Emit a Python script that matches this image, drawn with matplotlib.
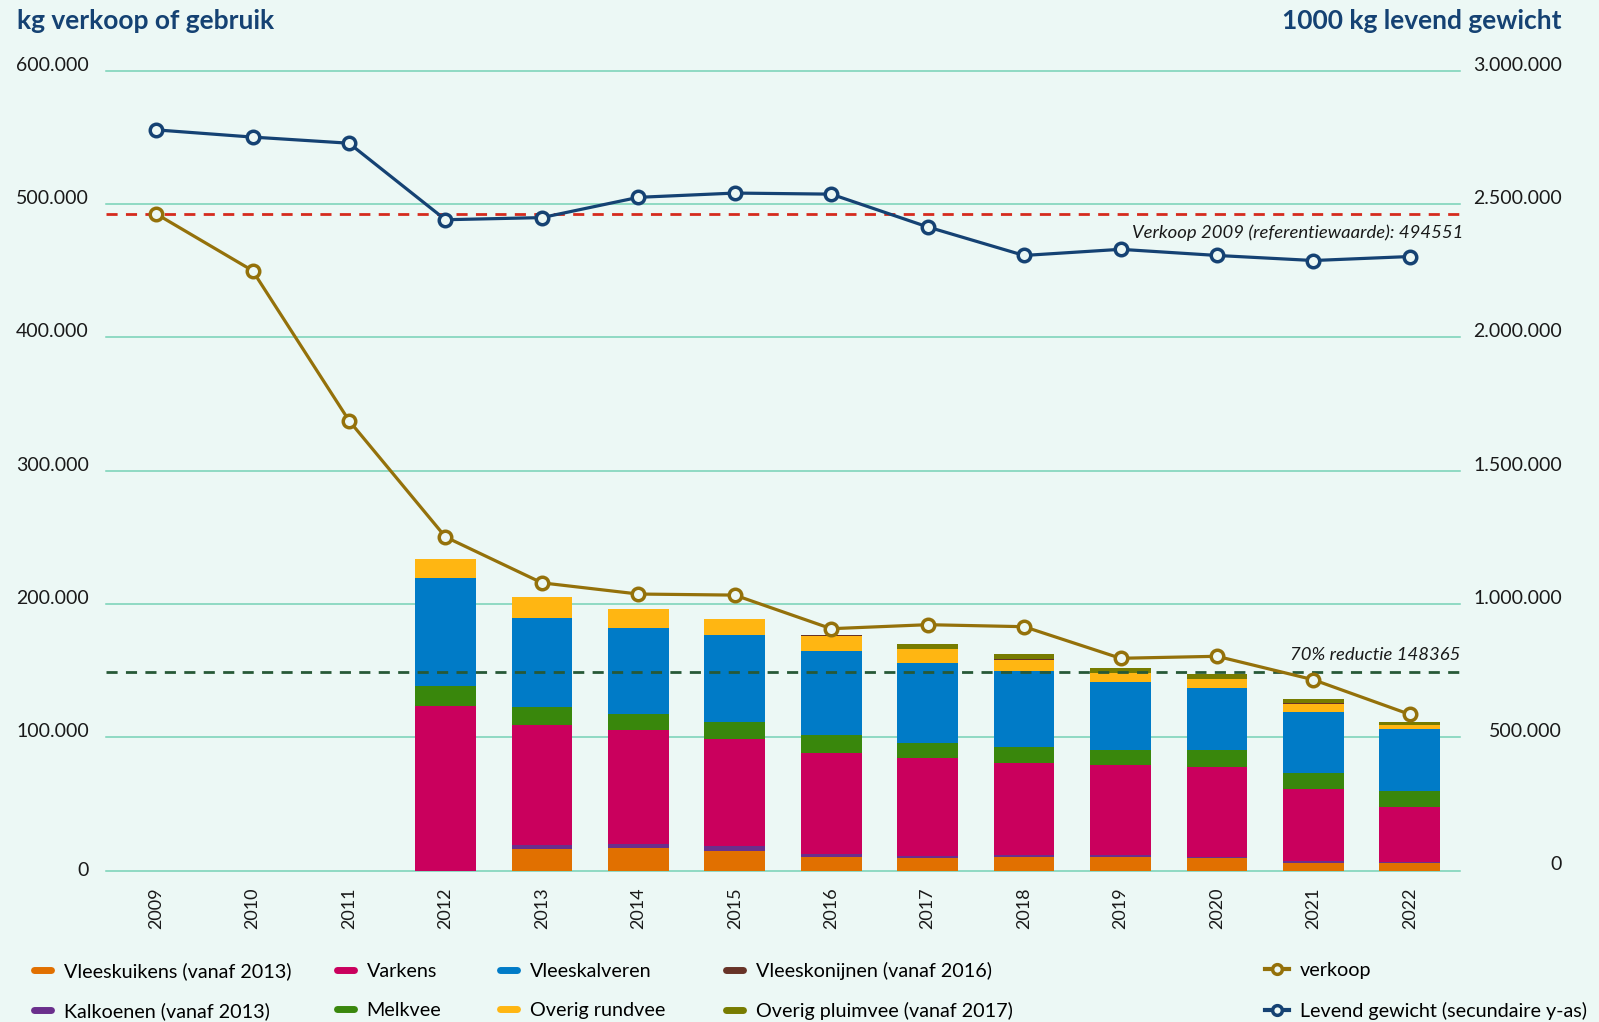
import numpy as np
import matplotlib
matplotlib.use("Agg")
import matplotlib.pyplot as plt
import matplotlib.transforms as mtransforms
from matplotlib.lines import Line2D

plt.rcParams['font.family'] = ['Lato', 'DejaVu Sans']

# ---- data ----
years = [2009, 2010, 2011, 2012, 2013, 2014, 2015, 2016, 2017, 2018, 2019, 2020, 2021, 2022]

vleeskuikens    = [0, 0, 0, 0, 16000, 16700, 14500, 10100, 9400, 10400, 10400, 9600, 5600, 5600]
kalkoenen       = [0, 0, 0, 0, 3000, 3300, 4000, 2500, 1700, 1500, 1500, 800, 1300, 800]
varkens         = [0, 0, 0, 123500, 90000, 85300, 80000, 75600, 73500, 68800, 67300, 67300, 54300, 41200]
melkvee         = [0, 0, 0, 15000, 13500, 12200, 12800, 13500, 11100, 12000, 11200, 12700, 12000, 12100]
vleeskalveren   = [0, 0, 0, 80800, 66800, 64300, 65300, 63000, 60000, 57000, 51000, 46500, 45700, 46500]
overig_rundvee  = [0, 0, 0, 14300, 15800, 14300, 12000, 11500, 10500, 8300, 6800, 6800, 6000, 3000]
vleeskonijnen   = [0, 0, 0, 0, 0, 0, 0, 700, 200, 700, 200, 200, 400, 200]
overig_pluimvee = [0, 0, 0, 0, 0, 0, 0, 0, 3800, 3800, 3700, 3800, 3000, 2200]

verkoop = [492600, 450000, 337500, 250200, 215800, 207400, 206600,
           181400, 184400, 182900, 159200, 160700, 143100, 117100]
levend_gewicht = [2778000, 2751000, 2728000, 2441000, 2449000, 2525000, 2541000,
                  2537000, 2414000, 2307000, 2330000, 2307000, 2288000, 2303000]

# label values and where the dashed lines sit in the picture
referentie_label = 494551
referentie_pos = 492600
reductie70_label = 148365
reductie70_pos = 149000

left_ticks = [0, 100000, 200000, 300000, 400000, 500000, 600000]
right_ticks = [0, 500000, 1000000, 1500000, 2000000, 2500000, 3000000]

# ---- colours ----
bg = '#ecf8f5'
grid_c = '#76d2b6'
navy = '#154273'
brown = '#94710a'

series = [
    ('Vleeskuikens (vanaf 2013)', vleeskuikens, '#e17000'),
    ('Kalkoenen (vanaf 2013)', kalkoenen, '#6a2f8c'),
    ('Varkens', varkens, '#ca005d'),
    ('Melkvee', melkvee, '#39870c'),
    ('Vleeskalveren', vleeskalveren, '#007bc7'),
    ('Overig rundvee', overig_rundvee, '#ffb612'),
    ('Vleeskonijnen (vanaf 2016)', vleeskonijnen, '#673327'),
    ('Overig pluimvee (vanaf 2017)', overig_pluimvee, '#777c00'),
]

W, H = 1599, 1022
fig = plt.figure(figsize=(W / 100, H / 100), dpi=100, facecolor=bg)
ax = fig.add_axes([106 / W, 1 - 870.5 / H, (1460 - 106) / W, (870.5 - 70.7) / H])
ax.set_facecolor(bg)
ax2 = ax.twinx()
ax2.patch.set_visible(False)

x = np.arange(len(years))
bottom = np.zeros(len(years))
for name, vals, col in series:
    v = np.array(vals, dtype=float)
    ax.bar(x, v, width=0.63, bottom=bottom, color=col, linewidth=0, zorder=2)
    bottom += v

for v in left_ticks:
    ax.axhline(v, color=grid_c, lw=1.1, zorder=0, clip_on=False)

ax.axhline(referentie_pos, color='#d52b1e', lw=2, ls=(0, (4, 3)), zorder=2.5)
ax.axhline(reductie70_pos, color='#275937', lw=2, ls=(0, (4, 3)), zorder=2.5)

ax.plot(x, verkoop, color=brown, lw=2.3, marker='o', ms=9, mfc=bg, mec=brown, mew=2.5,
        zorder=4, clip_on=False)
ax2.plot(x, levend_gewicht, color=navy, lw=2.3, marker='o', ms=9, mfc=bg, mec=navy, mew=2.5,
         zorder=4, clip_on=False)

ax.set_xlim(-0.52, 13.52)
ax.set_ylim(0, 600000)
ax2.set_ylim(0, 3000000)

for a in (ax, ax2):
    for s in a.spines.values():
        s.set_visible(False)
    a.set_yticks([])
ax.set_xticks(x)
ax.set_xticklabels([str(y) for y in years], rotation=90, fontsize=13, color='#1a1a1a')
ax.tick_params(axis='x', length=0, pad=12)

def fmt(v):
    return '{:,}'.format(v).replace(',', '.')

tl = mtransforms.blended_transform_factory(fig.transFigure, ax.transData)
for v in left_ticks:
    ax.text(89 / W, v, fmt(v), ha='right', va='center' if v == 0 else 'baseline',
            fontsize=14, color='#1a1a1a', transform=tl)
tr = mtransforms.blended_transform_factory(fig.transFigure, ax2.transData)
for v in right_ticks:
    ax2.text(1562 / W, v, fmt(v), ha='right', va='baseline',
             fontsize=14, color='#1a1a1a', transform=tr)

tx = mtransforms.blended_transform_factory(fig.transFigure, ax.transData)
ax.text(1463 / W, referentie_pos - 14000,
        'Verkoop 2009 (referentiewaarde): ' + str(referentie_label),
        ha='right', va='center', fontsize=13.3, style='italic', color='#1a1a1a', transform=tx)
ax.text(1460 / W, reductie70_pos + 13000, '70% reductie ' + str(reductie70_label),
        ha='right', va='center', fontsize=13.3, style='italic', color='#1a1a1a', transform=tx)

fig.text(17 / W, 1 - 29 / H, 'kg verkoop of gebruik', fontsize=19, fontweight='bold',
         color=navy, va='baseline', ha='left')
fig.text(1562 / W, 1 - 29 / H, '1000 kg levend gewicht', fontsize=19, fontweight='bold',
         color=navy, va='baseline', ha='right')

# ---- legend, one block per column ----
def bar_handle(col):
    return Line2D([0], [0], color=col, lw=5, solid_capstyle='round')

legend_y = 1 - 991 / H
cols_x = [34, 337, 500, 726]
for i, cx in enumerate(cols_x):
    pair = series[2 * i:2 * i + 2]
    fig.legend([bar_handle(c) for _, _, c in pair], [n for n, _, _ in pair],
               loc='center left', bbox_to_anchor=(cx / W, legend_y),
               frameon=False, fontsize=14.2, handlelength=0.85, handletextpad=0.65,
               labelspacing=1.15, borderpad=0, borderaxespad=0)

line_handles = [
    Line2D([0], [0], color=brown, lw=3, marker='o', ms=7, mfc=bg, mec=brown, mew=2.5),
    Line2D([0], [0], color=navy, lw=3, marker='o', ms=7, mfc=bg, mec=navy, mew=2.5),
]
fig.legend(line_handles, ['verkoop', 'Levend gewicht (secundaire y-as)'],
           loc='center left', bbox_to_anchor=(1265 / W, legend_y),
           frameon=False, fontsize=14.2, handlelength=1.2, handletextpad=0.55,
           labelspacing=1.15, borderpad=0, borderaxespad=0)

fig.savefig('out.png', dpi=100, facecolor=bg)
